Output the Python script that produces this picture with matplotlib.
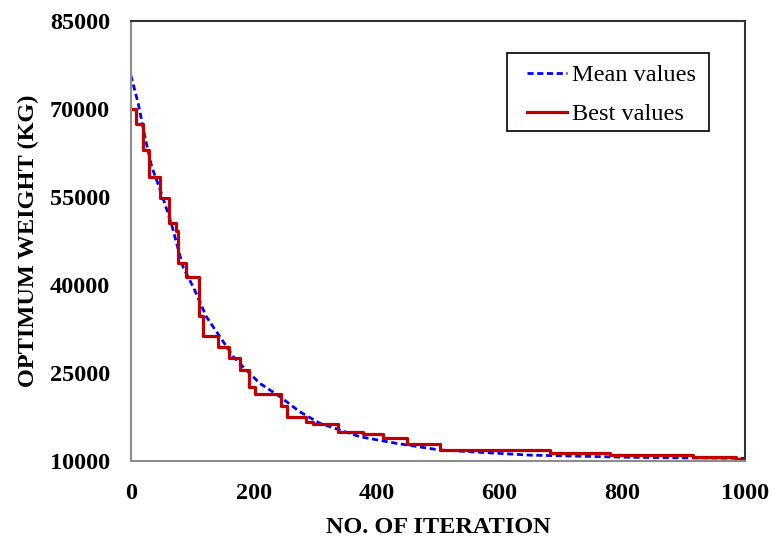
import matplotlib
matplotlib.use("Agg")
import matplotlib.pyplot as plt
from matplotlib.patches import Rectangle

# mean of the population at each iteration
mean_iter = [0, 12, 23, 34, 50, 66, 79, 85, 104, 123, 145, 167, 188, 210, 243,
             275, 308, 340, 373, 433, 503, 650, 813, 1000]
mean_vals = [75800, 71000, 65300, 60200, 55600, 50500, 45400, 43100, 39150, 34600,
             31200, 27780, 25500, 23250, 20960, 18400, 16420, 15300, 14140, 13000,
             11880, 11000, 10630, 10450]

# best design found so far (step changes)
best_iter = [0, 8, 20, 30, 47, 62, 74, 77, 90, 111, 118, 142, 160, 178, 192, 203,
             245, 255, 286, 297, 337, 378, 410, 449, 503, 682, 780, 915, 985, 1000]
best_vals = [70100, 67500, 63100, 58400, 54800, 50500, 49300, 43700, 41400, 34700,
             31300, 29400, 27500, 25500, 22700, 21400, 19300, 17500, 16700, 16250,
             15000, 14550, 13900, 12900, 11800, 11450, 11100, 10650, 10350, 10350]

x_ticks = [0, 200, 400, 600, 800, 1000]
y_ticks = [10000, 25000, 40000, 55000, 70000, 85000]

plt.rcParams['font.family'] = ['Liberation Serif', 'DejaVu Serif']

fig = plt.figure(figsize=(7.74, 5.43), dpi=100)
ax = fig.add_axes([0.169, 0.151, 0.7935, 0.810])

ax.plot(mean_iter, mean_vals, color='#0000FF', lw=2.0, ls=(0, (2.2, 1.3)),
        label='Mean values')
ax.plot(best_iter, best_vals, color='#C00000', lw=2.3, drawstyle='steps-post',
        label='Best values')

ax.set_xlim(0, 1000)
ax.set_ylim(10000, 85000)
ax.set_xticks(x_ticks)
ax.set_yticks(y_ticks)
ax.tick_params(axis='y', length=0, pad=15, labelsize=17.5)
ax.tick_params(axis='x', length=0, pad=16, labelsize=17.5)
for lab in ax.get_xticklabels() + ax.get_yticklabels():
    lab.set_fontweight('bold')

for side in ['left', 'bottom']:
    ax.spines[side].set_color('#8c8c8c')
    ax.spines[side].set_linewidth(1.5)
for side in ['top', 'right']:
    ax.spines[side].set_color('#333333')
    ax.spines[side].set_linewidth(1.5)

ax.set_xlabel('NO. OF ITERATION', fontsize=17.5, fontweight='bold', labelpad=9)
ax.set_ylabel('OPTIMUM WEIGHT (KG)', fontsize=17.5, fontweight='bold', labelpad=8)

# legend entries without frame; the box is drawn separately so it can be
# wider than it is tall around the entries
leg = ax.legend(loc='upper left', bbox_to_anchor=(0.645, 0.902), borderaxespad=0,
                fontsize=17.5, frameon=False, handlelength=1.65,
                handletextpad=0.2, borderpad=0, labelspacing=0.7)
ax.add_patch(Rectangle((0.612, 0.750), 0.329, 0.177, transform=ax.transAxes,
                       fill=False, edgecolor='black', linewidth=1.2, zorder=5))

fig.savefig('out.png', dpi=100)
